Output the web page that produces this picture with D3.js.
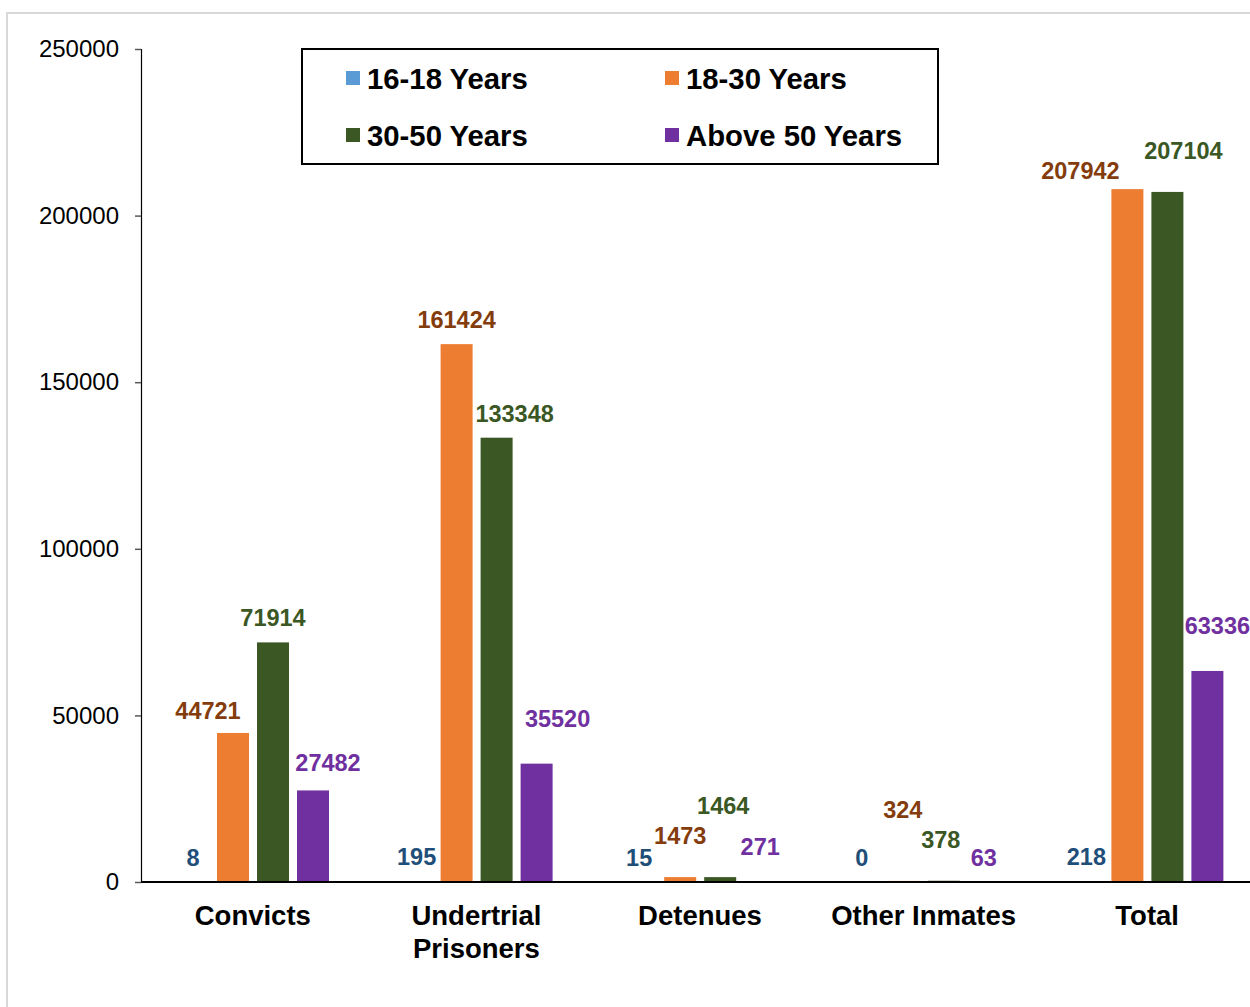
<!DOCTYPE html>
<html>
<head>
<meta charset="utf-8">
<script src="https://cdn.jsdelivr.net/npm/d3@7/dist/d3.min.js"></script>
<style>
  html, body { margin: 0; padding: 0; background: #fff; }
  svg { display: block; }
  text { font-family: "Liberation Sans", Arial, sans-serif; }
</style>
</head>
<body>
<svg id="chart" width="1250" height="1007"></svg>
<script>
// ---- Data ----
const categories = ["Convicts", "Undertrial Prisoners", "Detenues", "Other Inmates", "Total"];
const seriesNames = ["16-18 Years", "18-30 Years", "30-50 Years", "Above 50 Years"];
const age16to18 = [8, 195, 15, 0, 218];
const age18to30 = [44721, 161424, 1473, 324, 207942];
const age30to50 = [71914, 133348, 1464, 378, 207104];
const ageAbove50 = [27482, 35520, 271, 63, 63336];
const yTicks = [0, 50000, 100000, 150000, 200000, 250000];

// label nudges (manual label placement as in the original), per series, per category: [dx, dy]
const labelNudge = [
  [[0,0],[0,0],[-1,0],[-2,0],[-1,0]],
  [[-25,2],[0,0],[0,-17],[-1,-47],[-47,6]],
  [[0,0],[18,0],[3,-47],[-3,-17],[16,-17]],
  [[15,-3],[21,-21],[0,-10],[0,0],[10,-21]]
];

// ---- Styles ----
const barColors = ["#5b9bd5", "#ed7d31", "#3a5724", "#7030a0"];
const labelColors = ["#1f4e79", "#843c0c", "#3a5724", "#7030a0"];

const seriesValues = [age16to18, age18to30, age30to50, ageAbove50];

const svg = d3.select("#chart");

// outer frame
svg.append("rect")
  .attr("x", 7).attr("y", 13).attr("width", 1270).attr("height", 1020)
  .attr("fill", "#fff").attr("stroke", "#d9d9d9").attr("stroke-width", 2);

const x0 = d3.scaleBand().domain(categories).range([141, 1259]).paddingInner(0).paddingOuter(0);
const x1 = d3.scaleBand().domain(d3.range(4)).range([36, 188]).paddingInner(0.2).paddingOuter(0);
const y = d3.scaleLinear().domain([0, 250000]).range([882, 49]);

// Y axis
const yAxis = d3.axisLeft(y).tickValues(yTicks).tickFormat(d3.format("d")).tickSize(6).tickPadding(16);
const yg = svg.append("g").attr("transform", "translate(141,0)").call(yAxis);
yg.select(".domain").attr("stroke", "#000").attr("stroke-width", 1.2);
yg.selectAll(".tick line").attr("stroke", "#595959").attr("stroke-width", 1.5);
yg.selectAll(".tick text")
  .attr("font-size", 24).attr("fill", "#000")
  .style("font-family", "'Liberation Sans', Arial, sans-serif");

// bars
const groups = svg.append("g").selectAll("g")
  .data(categories).join("g")
  .attr("transform", d => `translate(${x0(d)},0)`);

groups.each(function(cat, ci) {
  const g = d3.select(this);
  seriesValues.forEach((vals, si) => {
    const v = vals[ci];
    g.append("rect")
      .attr("x", x1(si))
      .attr("y", y(v))
      .attr("width", x1.bandwidth())
      .attr("height", y(0) - y(v))
      .attr("fill", barColors[si]);
  });
});

// X axis line
svg.append("line")
  .attr("x1", 141).attr("x2", 1252).attr("y1", y(0)).attr("y2", y(0))
  .attr("stroke", "#000").attr("stroke-width", 2.2);

// data labels
groups.each(function(cat, ci) {
  const g = d3.select(this);
  seriesValues.forEach((vals, si) => {
    const v = vals[ci];
    const n = labelNudge[si][ci];
    g.append("text")
      .attr("x", x1(si) + x1.bandwidth() / 2 + n[0])
      .attr("y", y(v) - 24 + n[1])
      .attr("text-anchor", "middle")
      .attr("dominant-baseline", "central")
      .attr("font-size", 23.5)
      .attr("font-weight", "bold")
      .attr("fill", labelColors[si])
      .text(v);
  });
});

// category labels
const catLines = {
  "Convicts": ["Convicts"],
  "Undertrial Prisoners": ["Undertrial", "Prisoners"],
  "Detenues": ["Detenues"],
  "Other Inmates": ["Other Inmates"],
  "Total": ["Total"]
};
categories.forEach(cat => {
  const t = svg.append("text")
    .attr("x", x0(cat) + x0.bandwidth() / 2)
    .attr("y", 925)
    .attr("text-anchor", "middle")
    .attr("font-size", 27.5)
    .attr("font-weight", "bold")
    .attr("fill", "#000");
  catLines[cat].forEach((line, i) => {
    t.append("tspan").attr("x", x0(cat) + x0.bandwidth() / 2).attr("dy", i === 0 ? 0 : 33).text(line);
  });
});

// legend
const legend = svg.append("g");
legend.append("rect")
  .attr("x", 302).attr("y", 49).attr("width", 636).attr("height", 115)
  .attr("fill", "#fff").attr("stroke", "#000").attr("stroke-width", 2);
const legPos = [[346, 78], [665, 78], [346, 135], [665, 135]];
seriesNames.forEach((name, i) => {
  const [lx, ly] = legPos[i];
  legend.append("rect")
    .attr("x", lx).attr("y", ly - 7).attr("width", 14).attr("height", 14)
    .attr("fill", barColors[i]);
  legend.append("text")
    .attr("x", lx + 21).attr("y", ly)
    .attr("dominant-baseline", "central")
    .attr("font-size", 29.3)
    .attr("font-weight", "bold")
    .attr("fill", "#000")
    .text(name);
});
</script>
</body>
</html>
